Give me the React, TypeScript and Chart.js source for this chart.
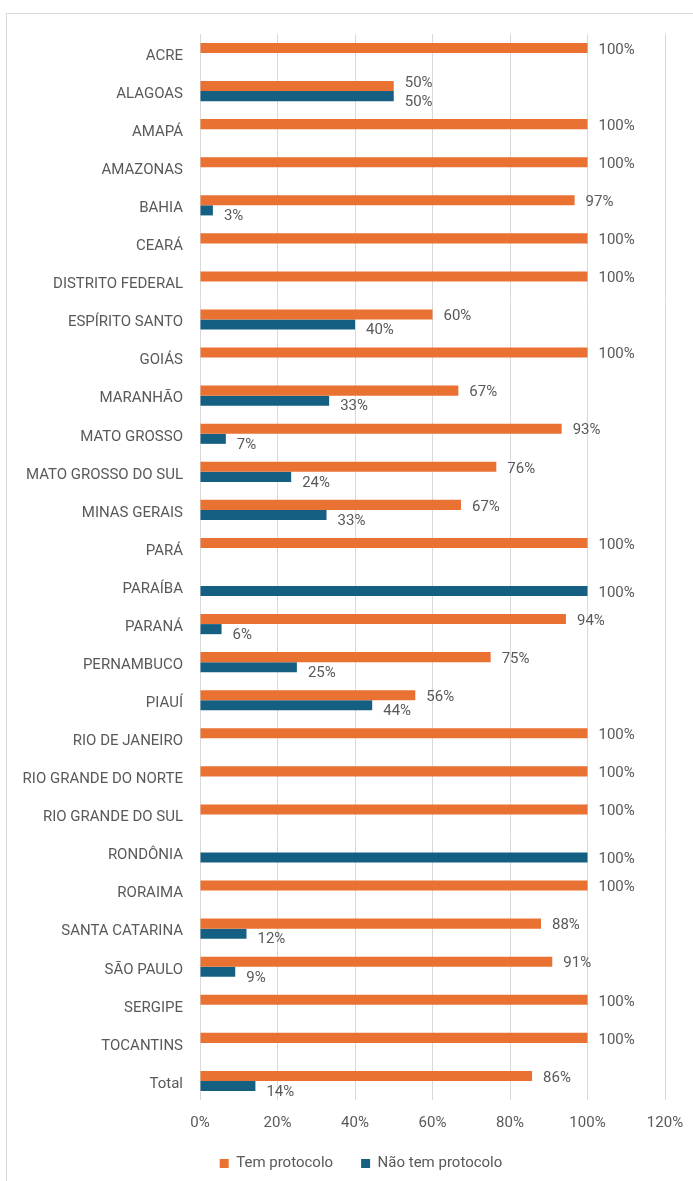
import React, { useEffect, useRef } from "react";
import { Chart, registerables } from "chart.js";

Chart.register(...registerables);

const categories = [
  "ACRE", "ALAGOAS", "AMAPÁ", "AMAZONAS", "BAHIA", "CEARÁ", "DISTRITO FEDERAL",
  "ESPÍRITO SANTO", "GOIÁS", "MARANHÃO", "MATO GROSSO", "MATO GROSSO DO SUL",
  "MINAS GERAIS", "PARÁ", "PARAÍBA", "PARANÁ", "PERNAMBUCO", "PIAUÍ",
  "RIO DE JANEIRO", "RIO GRANDE DO NORTE", "RIO GRANDE DO SUL", "RONDÔNIA",
  "RORAIMA", "SANTA CATARINA", "SÃO PAULO", "SERGIPE", "TOCANTINS", "Total",
];

const temProtocolo = [
  100, 50, 100, 100, 96.67, 100, 100, 60, 100, 66.67, 93.33, 76.47, 67.35, 100, 0,
  94.44, 75, 55.56, 100, 100, 100, 0, 100, 88, 90.91, 100, 100, 85.7,
];

const naoTemProtocolo = [
  0, 50, 0, 0, 3.33, 0, 0, 40, 0, 33.33, 6.67, 23.53, 32.65, 0, 100,
  5.56, 25, 44.44, 0, 0, 0, 100, 0, 12, 9.09, 0, 0, 14.3,
];

const seriesNames = ["Tem protocolo", "Não tem protocolo"];
const xTicks = [0, 20, 40, 60, 80, 100, 120];

const ORANGE = "#E97132";
const BLUE = "#156082";
const TEXT = "#595959";
const GRID = "#d9d9d9";
const FONT = "Roboto, 'Liberation Sans', sans-serif";

const labelPlugin = {
  id: "barLabels",
  afterDatasetsDraw(chart: any) {
    const ctx = chart.ctx;
    ctx.save();
    ctx.font = `15px ${FONT}`;
    ctx.fillStyle = TEXT;
    ctx.textAlign = "left";
    ctx.textBaseline = "middle";
    const m0 = chart.getDatasetMeta(0);
    const m1 = chart.getDatasetMeta(1);
    const d0 = chart.data.datasets[0].data as number[];
    const d1 = chart.data.datasets[1].data as number[];
    for (let i = 0; i < d0.length; i++) {
      const a = d0[i];
      const b = d1[i];
      if (a > 0) {
        const el = m0.data[i];
        const txt = Math.round(a) + "%";
        let dy = 2;
        if (b > 0) {
          const eb = m1.data[i];
          const w = ctx.measureText(txt).width;
          if (Math.abs(el.x - eb.x) < w) dy = -3;
        }
        ctx.fillText(txt, el.x + 11, el.y + dy);
      }
      if (b > 0) {
        const el = m1.data[i];
        const txt = Math.round(b) + "%";
        const dy = a > 0 ? 6 : 2;
        ctx.fillText(txt, el.x + 11, el.y + dy);
      }
    }
    ctx.restore();
  },
};

export default function App() {
  const ref = useRef<HTMLCanvasElement>(null);
  useEffect(() => {
    const chart = new Chart(ref.current!, {
      type: "bar",
      data: {
        labels: categories,
        datasets: [
          {
            label: seriesNames[0],
            data: temProtocolo,
            backgroundColor: ORANGE,
            categoryPercentage: 0.53,
            barPercentage: 1,
          },
          {
            label: seriesNames[1],
            data: naoTemProtocolo,
            backgroundColor: BLUE,
            categoryPercentage: 0.53,
            barPercentage: 1,
          },
        ],
      },
      options: {
        indexAxis: "y",
        responsive: false,
        animation: false,
        devicePixelRatio: 1,
        layout: { padding: { left: 57, right: 28, top: 34, bottom: 0 } },
        scales: {
          x: {
            min: 0,
            max: 120,
            afterBuildTicks(scale: any) {
              scale.ticks = xTicks.map((v) => ({ value: v }));
            },
            afterFit(scale: any) {
              scale.height = 28;
              scale.paddingLeft = 0;
              scale.paddingRight = 0;
            },
            grid: { color: GRID, drawTicks: false },
            border: { display: false },
            ticks: {
              padding: 14,
              color: TEXT,
              font: { size: 15, family: FONT },
              callback: (v: any) => v + "%",
            },
          },
          y: {
            afterFit(scale: any) {
              scale.width = 143;
              scale._computeLabelArea = () => undefined;
            },
            grid: { display: false, drawTicks: false },
            border: { display: false },
            ticks: {
              padding: 17,
              labelOffset: 3,
              color: TEXT,
              font: { size: 15, family: FONT },
              autoSkip: false,
            },
          },
        },
        plugins: {
          legend: {
            position: "bottom",
            labels: {
              boxWidth: 9,
              boxHeight: 9,
              padding: 28,
              color: TEXT,
              font: { size: 15, family: FONT },
            },
          },
          tooltip: { enabled: false },
        },
      },
      plugins: [labelPlugin],
    });
    return () => chart.destroy();
  }, []);

  return (
    <div
      style={{
        position: "fixed",
        left: 0,
        top: 0,
        width: 693,
        height: 1181,
        overflow: "hidden",
        background: "#fff",
      }}
    >
      <div
        style={{
          position: "absolute",
          left: 6,
          top: 13,
          width: 800,
          height: 1400,
          border: "1px solid #d9d9d9",
        }}
      />
      <canvas
        ref={ref}
        width={693}
        height={1181}
        style={{ position: "absolute", left: 0, top: 0, width: 693, height: 1181 }}
      />
    </div>
  );
}
